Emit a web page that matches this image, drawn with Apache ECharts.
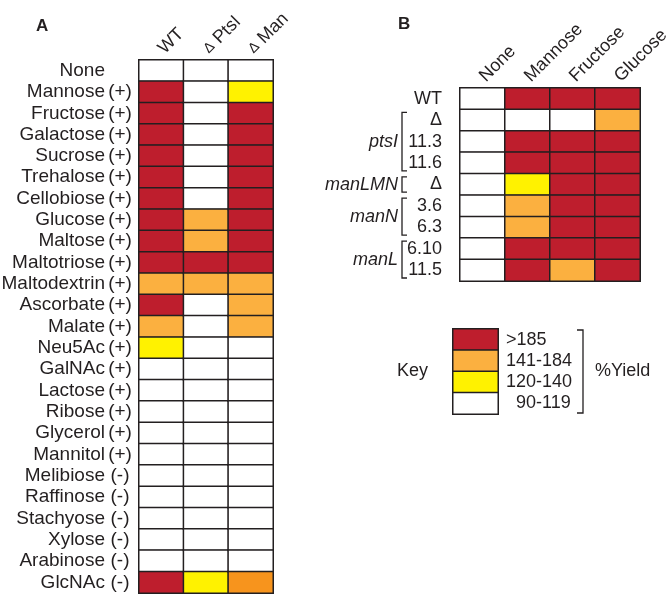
<!DOCTYPE html>
<html><head><meta charset="utf-8">
<script src="https://cdn.jsdelivr.net/npm/echarts@6/dist/echarts.min.js"></script>
<style>html,body{margin:0;padding:0;background:#fff}#c{width:666px;height:597px}</style>
</head><body><div id="c"></div>
<script>
// ---------- Panel A data ----------
const sugarsA = ['None','Mannose','Fructose','Galactose','Sucrose','Trehalose','Cellobiose','Glucose','Maltose','Maltotriose','Maltodextrin','Ascorbate','Malate','Neu5Ac','GalNAc','Lactose','Ribose','Glycerol','Mannitol','Melibiose','Raffinose','Stachyose','Xylose','Arabinose','GlcNAc'];
const signsA = ['','(+)','(+)','(+)','(+)','(+)','(+)','(+)','(+)','(+)','(+)','(+)','(+)','(+)','(+)','(+)','(+)','(+)','(+)','(-)','(-)','(-)','(-)','(-)','(-)'];
const strainsA = ['WT','ΔPtsI','ΔMan'];
// levels: 0 = 90-119 (white), 1 = 120-140 (yellow), 2 = 141-184 (orange), 3 = >185 (red), 4 = dark orange
const levelWT   = [0,3,3,3,3,3,3,3,3,3,2,3,2,1,0,0,0,0,0,0,0,0,0,0,3];
const levelPtsI = [0,0,0,0,0,0,0,2,2,3,2,0,0,0,0,0,0,0,0,0,0,0,0,0,1];
const levelMan  = [0,1,3,3,3,3,3,3,3,3,2,2,2,0,0,0,0,0,0,0,0,0,0,0,4];

// ---------- Panel B data ----------
const sugarsB = ['None','Mannose','Fructose','Glucose'];
const strainsB = ['WT','Δ','11.3','11.6','Δ','3.6','6.3','6.10','11.5'];
const levelNone     = [0,0,0,0,0,0,0,0,0];
const levelMannose  = [3,0,3,3,1,2,2,3,3];
const levelFructose = [3,0,3,3,3,3,3,3,2];
const levelGlucose  = [3,2,3,3,3,3,3,3,3];
const groupNames = ['ptsI','manLMN','manN','manL'];
const groupStart = [1,4,5,7];
const groupEnd   = [3,4,6,8];

// ---------- Key ----------
const keyLabels = ['>185','141-184','120-140','90-119'];
const keyLevels = [3,2,1,0];

const levelColors = ['#ffffff','#fff200','#fbb040','#be1e2d','#f7941d'];
const FONT = 'Liberation Sans, Arial, sans-serif';
const TXT = '#231f20';

function cells(cols) {
  const out = [];
  cols.forEach((col, x) => col.forEach((lv, y) => {
    out.push({ value: [x, y, lv], itemStyle: { color: levelColors[lv] } });
  }));
  return out;
}
const hdr = s => s.indexOf('Δ') === 0 ? '{d|Δ} ' + s.slice(1) : s;

const chart = echarts.init(document.getElementById('c'), null, { renderer: 'canvas' });
const cellStyle = { borderColor: TXT, borderWidth: 1.5 };
const hidden = { axisLine: { show: false }, axisTick: { show: false }, splitLine: { show: false } };

chart.setOption({
  animation: false,
  textStyle: { fontFamily: FONT, color: TXT },
  title: [
    { text: 'A', left: 31, top: 13, textStyle: { fontSize: 17, fontWeight: 'bold', color: TXT, fontFamily: FONT } },
    { text: 'B', left: 393, top: 11, textStyle: { fontSize: 17, fontWeight: 'bold', color: TXT, fontFamily: FONT } }
  ],
  grid: [
    { left: 139, top: 60, width: 134, height: 533, outerBoundsMode: 'none', containLabel: false },
    { left: 460, top: 88, width: 180, height: 193, outerBoundsMode: 'none', containLabel: false },
    { left: 453, top: 329, width: 45, height: 85, outerBoundsMode: 'none', containLabel: false }
  ],
  xAxis: [
    { type: 'category', gridIndex: 0, position: 'top', data: strainsA, ...hidden,
      axisLabel: { interval: 0, rotate: -45, margin: 9, fontSize: 18, color: TXT, fontFamily: FONT, formatter: hdr,
        rich: { d: { fontSize: 14, color: TXT, fontFamily: FONT } } } },
    { type: 'category', gridIndex: 1, position: 'top', data: sugarsB, ...hidden,
      axisLabel: { interval: 0, rotate: -45, margin: 9, fontSize: 18, color: TXT, fontFamily: FONT } },
    { type: 'category', gridIndex: 2, data: ['k'], show: false }
  ],
  yAxis: [
    { type: 'category', gridIndex: 0, inverse: true, data: sugarsA, ...hidden,
      axisLabel: { interval: 0, margin: 4, color: TXT, fontFamily: FONT, fontSize: 19,
        formatter: (v, i) => '{n|' + v + '}{s|' + (signsA[i] || ' ') + '}',
        rich: { n: { fontSize: 19, color: TXT, fontFamily: FONT },
                s: { fontSize: 19, color: TXT, fontFamily: FONT, width: 30, align: 'center' } } } },
    { type: 'category', gridIndex: 1, inverse: true, data: strainsB, ...hidden,
      axisLabel: { interval: 0, margin: 18, fontSize: 18, color: TXT, fontFamily: FONT } },
    { type: 'category', gridIndex: 2, inverse: true, position: 'right', data: keyLabels, ...hidden,
      axisLabel: { interval: 0, margin: 8, fontSize: 18, color: TXT, fontFamily: FONT, align: 'left',
        formatter: v => v.length < 7 && v.indexOf('-') > 0 ? '\u2007' + v : v } }
  ],
  series: [
    { type: 'heatmap', xAxisIndex: 0, yAxisIndex: 0, data: cells([levelWT, levelPtsI, levelMan]), itemStyle: cellStyle, emphasis: { disabled: true } },
    { type: 'heatmap', xAxisIndex: 1, yAxisIndex: 1, data: cells([levelNone, levelMannose, levelFructose, levelGlucose]), itemStyle: cellStyle, emphasis: { disabled: true } },
    { type: 'heatmap', xAxisIndex: 2, yAxisIndex: 2, data: cells([keyLevels]), itemStyle: cellStyle, emphasis: { disabled: true } }
  ]
});

// Brackets and group labels (positions from the axes)
const g = [];
const lineStyle = { stroke: TXT, lineWidth: 1.3, fill: null };
const rowH = 193 / strainsB.length;
groupNames.forEach((name, i) => {
  const yTop = chart.convertToPixel({ gridIndex: 1 }, [0, groupStart[i]])[1] - rowH / 2 + 3;
  const yBot = chart.convertToPixel({ gridIndex: 1 }, [0, groupEnd[i]])[1] + rowH / 2 - 3;
  const bx = 402;
  g.push({ type: 'polyline', shape: { points: [[bx + 5, yTop], [bx, yTop], [bx, yBot], [bx + 5, yBot]] }, style: lineStyle, silent: true });
  g.push({ type: 'text', x: 398, y: (yTop + yBot) / 2, style: { text: name, fontSize: 18, fontStyle: 'italic', fontFamily: FONT, fill: TXT, align: 'right', verticalAlign: 'middle' } });
});
// Key bracket
const kTop = chart.convertToPixel({ gridIndex: 2 }, [0, 0])[1] - 85 / 8 + 1;
const kBot = chart.convertToPixel({ gridIndex: 2 }, [0, keyLabels.length - 1])[1] + 85 / 8 - 1;
g.push({ type: 'polyline', shape: { points: [[577, kTop], [583, kTop], [583, kBot], [577, kBot]] }, style: lineStyle, silent: true });
g.push({ type: 'text', x: 595, y: (kTop + kBot) / 2, style: { text: '%Yield', fontSize: 18, fontFamily: FONT, fill: TXT, align: 'left', verticalAlign: 'middle' } });
g.push({ type: 'text', x: 397, y: (kTop + kBot) / 2, style: { text: 'Key', fontSize: 18, fontFamily: FONT, fill: TXT, align: 'left', verticalAlign: 'middle' } });
chart.setOption({ graphic: g });
</script>
</body></html>
